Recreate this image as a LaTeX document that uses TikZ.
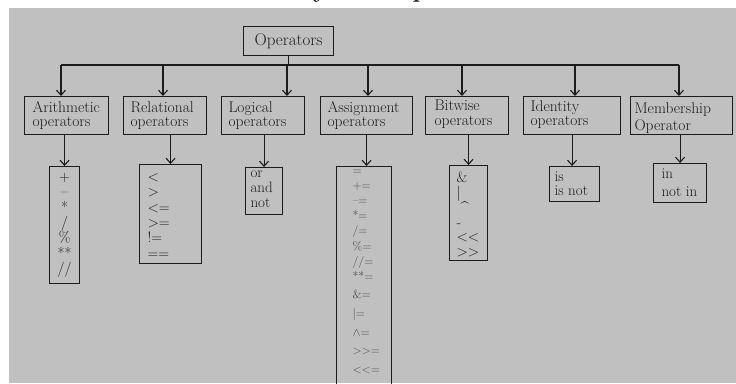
\documentclass[tikz,border=0pt]{standalone}
\usepackage{fontspec}
\usetikzlibrary{arrows.meta}
\definecolor{bg}{RGB}{192,192,192}
\definecolor{ink}{RGB}{28,28,28}
\definecolor{soft}{RGB}{72,72,72}
% #1 height, #2 width, #3 left pad, #4 first baseline, #5 lines
\newcommand\lbox[5]{\parbox[b][#1][t]{#2}{\raggedright\leftskip=#3\relax\rule{0pt}{#4}#5}}
% #1 height, #2 width, #3 first baseline, #4 lines
\newcommand\cbox[4]{\parbox[b][#1][t]{#2}{\centering\rule{0pt}{#3}#4}}
\begin{document}
\begin{tikzpicture}[x=1pt,y=-1pt,
  frame/.style={draw=ink, line width=1.1pt, inner sep=0pt, anchor=north west, text=ink},
  cat/.style={frame, font=\fontsize{15.5}{14.5}\selectfont},
  lst/.style={frame, font=\fontsize{15}{15.3}\selectfont},
  arr/.style={line width=1.1pt, draw=ink, -{Straight Barb[length=5pt,width=9pt]}},
  wire/.style={line width=1.1pt, draw=ink}]
\useasboundingbox (0,0) rectangle (736,383);
\fill[white] (0,0) rectangle (736,383);
\fill[bg] (9,8) rectangle (736,383);
\node[anchor=base west, inner sep=0pt, text=ink, font=\fontsize{24.5}{24.5}\selectfont\bfseries] (title) at (294,-2.5) {Python Operators};

\node[frame, minimum width=90pt, minimum height=29pt, font=\fontsize{17}{17}\selectfont] (ops) at (243,26) {Operators};

\node[cat] (arith)  at (24,96)  {\lbox{38pt}{84pt}{8pt}{15.5pt}{Arithmetic\\operators}};
\node[cat] (rel)    at (123,96) {\lbox{38pt}{83pt}{7pt}{15.5pt}{Relational\\operators}};
\node[cat] (logic)  at (221,96) {\lbox{38pt}{83pt}{7pt}{15.5pt}{Logical\\operators}};
\node[cat] (assign) at (320,96) {\lbox{38pt}{92pt}{7pt}{15.5pt}{Assignment\\operators}};
\node[cat] (bitw)   at (425,96) {\lbox{38pt}{83pt}{9pt}{14pt}{Bitwise\\operators}};
\node[cat] (ident)  at (523,96) {\lbox{38pt}{97pt}{7pt}{14.5pt}{Identity\\operators}};
\node[cat] (memb)   at (630,96) {\lbox{38pt}{102pt}{4pt}{16.5pt}{Membership\\[3pt]Operator}};

\node[lst] (arithL) at (49,166) {\cbox{117pt}{30pt}{15pt}{+\\–\\{}*\\/\\\%\\{}**\\//}};
\node[lst] (relL) at (139,164) {\lbox{99pt}{62pt}{8pt}{17pt}{<\\>\\<=\\>=\\!=\\==}};
\node[lst] (logicL) at (245,167) {\lbox{47pt}{37pt}{5pt}{9.5pt}{or\\and\\not}};
\node[lst, text=soft, font=\fontsize{12}{15.1}\selectfont] (assignL) at (336,166)
  {\lbox{240pt}{55pt}{16pt}{8pt}{=\\+=\\–=\\{}*=\\/=\\\%=\\//=\\{}**=\\[3.5pt]\&=\\[3.5pt]|=\\[3.5pt]$\wedge$=\\[3.5pt]>\kern0pt>=\\[3.5pt]<\kern0pt<=}};
\node[lst, font=\fontsize{15}{14.5}\selectfont] (bitwL) at (449,165)
  {\lbox{95pt}{38pt}{7pt}{17pt}{\&\\|\\\hspace*{4pt}\textasciicircum\\-\\<\kern0pt<\\>\kern0pt>}};
\node[lst, font=\fontsize{15}{14.3}\selectfont] (identL) at (549,166) {\lbox{35pt}{50pt}{5pt}{15pt}{is\\is not}};
\node[lst] (membL) at (653,163) {\lbox{39pt}{53pt}{8pt}{15pt}{in\\[2.5pt]not in}};

\coordinate (b1) at (61,65);
\coordinate (b2) at (163,65);
\coordinate (b3) at (287,65);
\coordinate (b4) at (368,65);
\coordinate (b5) at (462,65);
\coordinate (b6) at (575,65);
\coordinate (b7) at (679,65);

\draw[wire] (ops.south) -- (ops.south |- b3);
\draw[wire] (b1) -- (b7);
\draw[arr] (b1) -- (b1 |- arith.north);
\draw[arr] (b2) -- (b2 |- rel.north);
\draw[arr] (b3) -- (b3 |- logic.north);
\draw[arr] (b4) -- (b4 |- assign.north);
\draw[arr] (b5) -- (b5 |- bitw.north);
\draw[arr] (b6) -- (b6 |- ident.north);
\draw[arr] (b7) -- (b7 |- memb.north);

\draw[arr] (arithL.north |- arith.south) -- (arithL.north);
\draw[arr] (relL.north |- rel.south) -- (relL.north);
\draw[arr] (logicL.north |- logic.south) -- (logicL.north);
\draw[arr] (assign.south) -- (assign.south |- assignL.north);
\draw[arr] (bitwL.north |- bitw.south) -- (bitwL.north);
\draw[arr] (ident.south) -- (ident.south |- identL.north);
\draw[arr] (membL.north |- memb.south) -- (membL.north);
\end{tikzpicture}
\end{document}
